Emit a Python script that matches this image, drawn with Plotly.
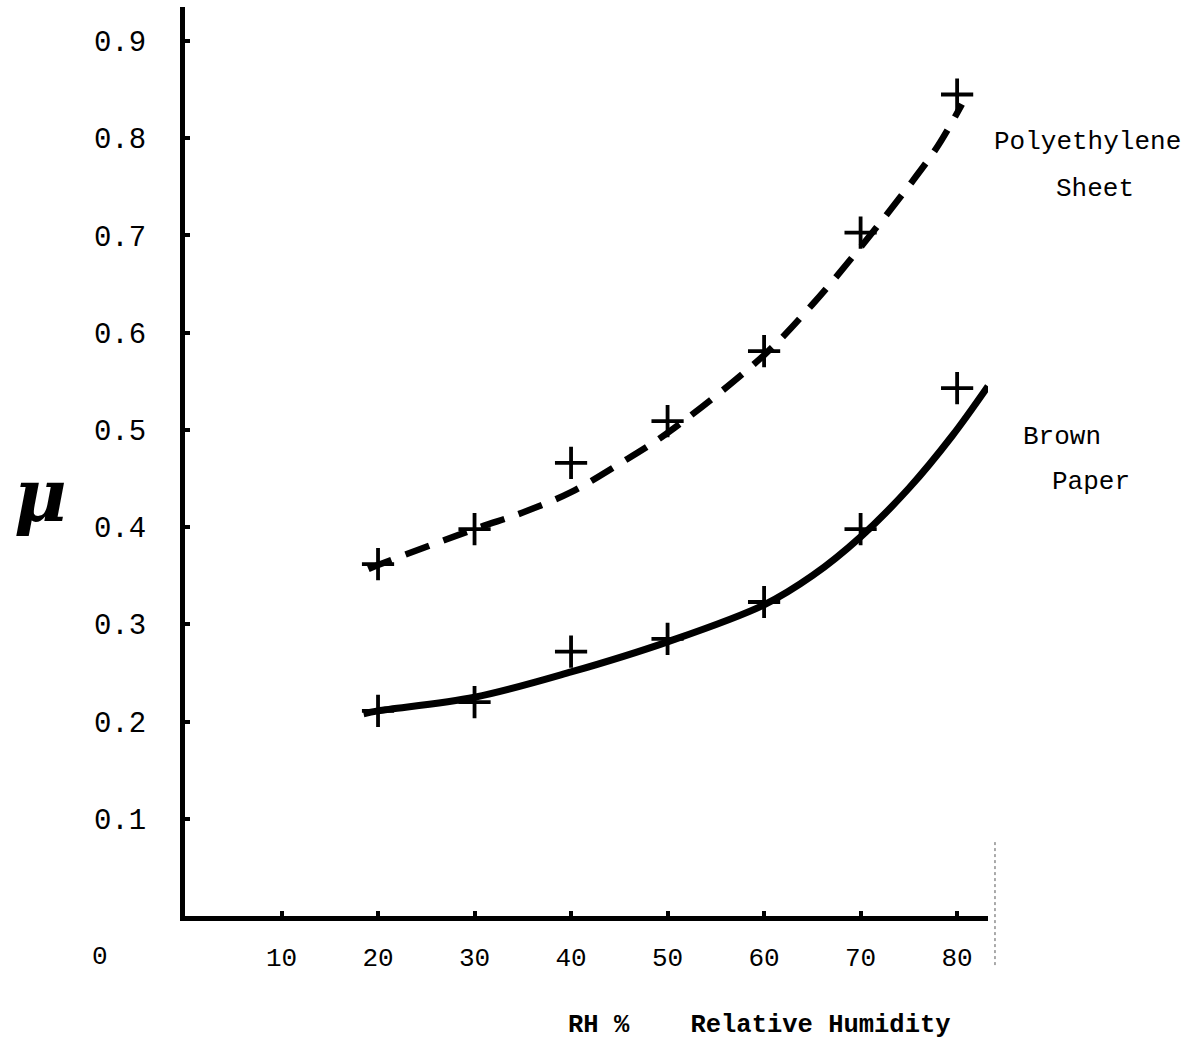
import plotly.graph_objects as go

# Measured friction coefficient vs relative humidity
rh_points = [20, 30, 40, 50, 60, 70, 80]
poly_points = [0.362, 0.398, 0.466, 0.509, 0.581, 0.703, 0.845]
brown_points = [0.211, 0.220, 0.272, 0.285, 0.323, 0.398, 0.543]

# Hand-drawn smoothing curves through the measurements
poly_curve_rh = [19, 20, 30, 35, 40, 45, 50, 60, 65, 70, 75, 78, 80.5]
poly_curve_mu = [0.357, 0.361, 0.398, 0.415, 0.436, 0.465, 0.497, 0.577, 0.629, 0.688, 0.751, 0.792, 0.835]
brown_curve_rh = [18.5, 20, 30, 40, 50, 60, 65, 70, 75, 79.5, 83.2]
brown_curve_mu = [0.208, 0.211, 0.225, 0.251, 0.282, 0.320, 0.350, 0.390, 0.440, 0.494, 0.545]

x_ticks = [10, 20, 30, 40, 50, 60, 70, 80]
y_ticks = [0.1, 0.2, 0.3, 0.4, 0.5, 0.6, 0.7, 0.8, 0.9]
y_tick_text = ["0.1", "0.2", "0.3", "0.4", "0.5", "0.6", "0.7", "0.8", "0.9"]

MONO = "Liberation Mono"
INK = "#000000"

fig = go.Figure()

fig.add_trace(go.Scatter(
    x=poly_curve_rh, y=poly_curve_mu, mode="lines",
    line=dict(color=INK, width=6.5, dash="25px,15px", shape="spline", smoothing=1.0),
    hoverinfo="skip", showlegend=False,
))
fig.add_trace(go.Scatter(
    x=brown_curve_rh, y=brown_curve_mu, mode="lines",
    line=dict(color=INK, width=7, shape="spline", smoothing=1.0),
    hoverinfo="skip", showlegend=False,
))
for vals in (poly_points, brown_points):
    fig.add_trace(go.Scatter(
        x=rh_points, y=vals, mode="markers",
        marker=dict(symbol="cross-thin", size=23, line=dict(color=INK, width=3.8)),
        showlegend=False,
    ))


def label(text, x, y, size=26, **font_extra):
    return dict(text=text, xref="paper", yref="paper", x=x, y=y,
                xanchor="center", yanchor="middle", showarrow=False,
                font=dict(family=MONO, size=size, color=INK, **font_extra))


fig.update_layout(
    width=1197, height=1046,
    margin=dict(l=185, r=209, t=7, b=130),
    paper_bgcolor="white", plot_bgcolor="white",
    font=dict(family=MONO, color=INK),
    xaxis=dict(
        range=[0, 83.2], showgrid=False, zeroline=False,
        showline=True, linecolor=INK, linewidth=5,
        tickvals=x_ticks, ticks="inside", ticklen=5, tickwidth=4, tickcolor=INK,
        tickfont=dict(family=MONO, size=26, color=INK),
        ticklabelstandoff=14,
    ),
    yaxis=dict(
        range=[0, 0.935], showgrid=False, zeroline=False,
        showline=True, linecolor=INK, linewidth=5,
        tickvals=y_ticks, ticktext=y_tick_text,
        ticks="inside", ticklen=5, tickwidth=4, tickcolor=INK,
        tickfont=dict(family=MONO, size=29, color=INK),
        ticklabelstandoff=28,
    ),
    annotations=[
        label("0", -0.106, -0.045),
        label("RH\u00a0%\u00a0\u00a0\u00a0\u00a0Relative\u00a0Humidity", 0.716, -0.12,
              size=25.5, weight="bold"),
        label("Polyethylene", 1.1235, 0.852),
        label("Sheet", 1.1335, 0.8),
        label("Brown", 1.0925, 0.527),
        label("Paper", 1.1285, 0.477),
        dict(text="<i><b>μ</b></i>", xref="paper", yref="paper", x=-0.18, y=0.463,
             xanchor="center", yanchor="middle", showarrow=False,
             font=dict(family="DejaVu Serif", size=72, color=INK)),
    ],
    shapes=[
        dict(type="line", xref="paper", yref="paper", x0=1.0087, x1=1.0087,
             y0=-0.054, y1=0.083, line=dict(color="#555555", width=1, dash="dot")),
    ],
)

fig.write_html("out.html")
